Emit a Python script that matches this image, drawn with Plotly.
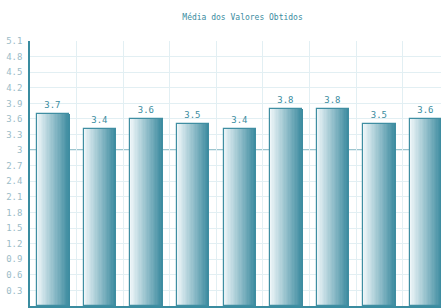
import plotly.graph_objects as go

categories = ["1", "2", "3", "4", "5", "6", "7", "8", "9"]
values = [3.7, 3.4, 3.6, 3.5, 3.4, 3.8, 3.8, 3.5, 3.6]
value_labels = ["3.7", "3.4", "3.6", "3.5", "3.4", "3.8", "3.8", "3.5", "3.6"]
y_ticks = [0, 0.3, 0.6, 0.9, 1.2, 1.5, 1.8, 2.1, 2.4, 2.7, 3, 3.3, 3.6, 3.9, 4.2, 4.5, 4.8, 5.1]
y_tick_labels = ["0", "0.3", "0.6", "0.9", "1.2", "1.5", "1.8", "2.1", "2.4", "2.7", "3",
                 "3.3", "3.6", "3.9", "4.2", "4.5", "4.8", "5.1"]
reference_value = 3
title = "Média dos Valores Obtidos"

x = list(range(len(categories)))
bar_w = 0.69
n_strips = 24
c0 = (238, 246, 249)
c1 = (62, 140, 160)

fig = go.Figure()
for k in range(n_strips):
    t = k / (n_strips - 1)
    col = "rgb(%d,%d,%d)" % tuple(round(a + (b - a) * t) for a, b in zip(c0, c1))
    fig.add_trace(go.Bar(
        x=x, y=values, width=bar_w / n_strips * 1.05,
        offset=-bar_w / 2 + k * bar_w / n_strips,
        marker=dict(color=col, line=dict(width=0)),
        hoverinfo="skip", showlegend=False,
    ))

fig.add_trace(go.Bar(
    x=x, y=values, width=bar_w, offset=-bar_w / 2,
    marker=dict(color="rgba(0,0,0,0)", line=dict(color="#3f8ea2", width=1.2)),
    text=value_labels, textposition="outside", cliponaxis=False,
    textfont=dict(color="#3a8ca0", size=9, family="DejaVu Sans Mono"),
    showlegend=False,
))

fig.add_shape(type="line", xref="paper", x0=0, x1=1, yref="y",
              y0=reference_value, y1=reference_value,
              line=dict(color="#3a8ca0", width=1.4), layer="between")

fig.update_layout(
    width=441, height=308,
    margin=dict(l=30, r=0, t=41, b=2),
    paper_bgcolor="white", plot_bgcolor="white",
    barmode="overlay", bargap=0,
    title=dict(text=title, x=0.55, xanchor="center", y=0.945, yanchor="middle",
               font=dict(color="#3a8ca0", size=8, family="DejaVu Sans Mono")),
    font=dict(family="DejaVu Sans Mono", size=9, color="#9bbcc8"),
    xaxis=dict(range=[-0.5, 8.32], tickvals=[i + 0.5 for i in range(8)],
               showticklabels=False, ticks="", showgrid=True, gridcolor="#e2eff3",
               gridwidth=1, zeroline=False, showline=True, linecolor="#3a8ca0", linewidth=1.5),
    yaxis=dict(range=[0, 5.1], tickvals=y_ticks, ticktext=y_tick_labels,
               showgrid=True, gridcolor="#e2eff3", gridwidth=1, zeroline=False,
               showline=True, linecolor="#3a8ca0", linewidth=1.5, ticks="",
               ticklabelstandoff=4),
)

fig.write_html("out.html", config={"displayModeBar": False},
               post_script="document.body.style.margin='0';document.body.style.overflow='hidden';")
